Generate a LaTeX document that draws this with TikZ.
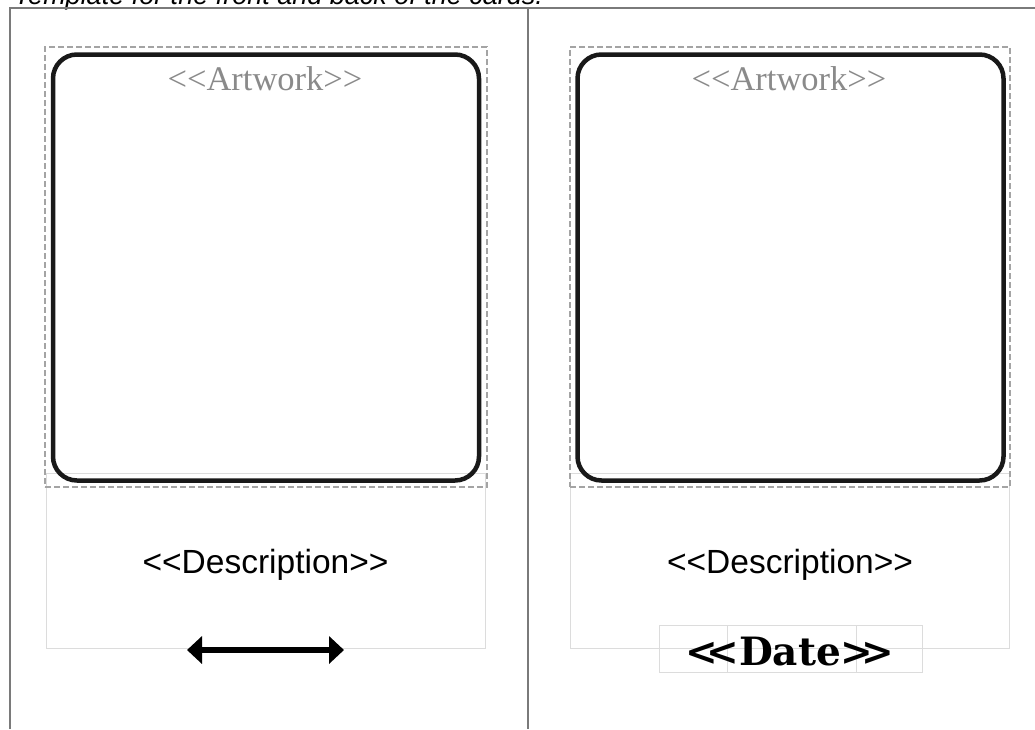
\documentclass[tikz,border=0pt]{standalone}
\usepackage{fontspec}
\usetikzlibrary{arrows.meta, positioning}
\newfontfamily\captionfont{Liberation Sans}
\newfontfamily\artfont{Liberation Serif}
\newfontfamily\descfont{Liberation Sans}
\newfontfamily\datefont{DejaVu Serif}
\definecolor{frameGray}{HTML}{7A7A7A}
\definecolor{dashGray}{HTML}{A4A4A4}
\definecolor{boxGray}{HTML}{DCDCDC}
\definecolor{artGray}{HTML}{8A8A8A}
\tikzset{
    % Frames
    outerline/.style={draw=frameGray, line width=2pt},
    cutframe/.style={rectangle, draw=dashGray, line width=1.3pt, dash pattern=on 6pt off 3pt,
                     inner sep=0pt, outer sep=0pt},
    artbox/.style={rectangle, draw=black!90, line width=4.5pt, rounded corners=24pt,
                   minimum width=426pt, minimum height=426pt, inner sep=0pt, outer sep=0pt},
    descbox/.style={rectangle, draw=boxGray, line width=1pt, minimum width=439pt,
                    minimum height=175pt, inner sep=0pt, outer sep=0pt},
    datecell/.style={rectangle, draw=boxGray, line width=1pt, minimum height=47pt,
                     inner sep=0pt, outer sep=0pt},
    % Texts
    arttext/.style={anchor=base, text=artGray, font=\artfont\fontsize{34.5}{40}\selectfont},
    desctext/.style={anchor=base, font=\descfont\fontsize{33.5}{40}\selectfont},
    datetext/.style={anchor=base, font=\datefont\bfseries\fontsize{39}{44}\selectfont},
    % Arrow
    bothway/.style={{Triangle[length=15pt, width=27pt]}-{Triangle[length=15pt, width=27pt]},
                    line width=5.5pt, black}
}

\begin{document}
\begin{tikzpicture}[x=1pt, y=-1pt]
\useasboundingbox (0,0) rectangle (1035,729);

% caption, cut off at the top of the page
\node[anchor=base west, inner sep=0pt, font=\captionfont\itshape\fontsize{27}{32}\selectfont]
    (caption) at (14,4) {Template for the front and back of the cards.};

% outer frame
\coordinate (frameBL) at (10,729);
\coordinate (frameTR) at (1035,8);
\coordinate (splitTop) at (528,8);
\coordinate (splitBot) at (528,729);
\draw[outerline] (frameBL) |- (frameTR);
\draw[outerline] (splitTop) -- (splitBot);

% front card
\node[descbox] (frontDesc) at (265.5,560.5) {};
\node[cutframe, minimum width=442pt, minimum height=440pt] (frontCut) at (266,267) {};
\node[artbox] (frontArt) at (266,267.5) {};
\node[arttext] (frontArtText) at (265,90) {<<Artwork>>};
\node[desctext] (frontDescText) at (265.5,573) {<<Description>>};
\coordinate (arrowLeft) at (187,650);
\coordinate (arrowRight) at (344,650);
\draw[bothway] (arrowLeft) -- (arrowRight);

% back card
\node[descbox] (backDesc) at (790,560.5) {};
\node[cutframe, minimum width=440pt, minimum height=440pt] (backCut) at (790,267) {};
\node[artbox] (backArt) at (790.5,267.5) {};
\node[arttext] (backArtText) at (789,90) {<<Artwork>>};
\node[desctext] (backDescText) at (790,573) {<<Description>>};
\node[datecell, minimum width=129pt] (dateMid) at (791.5,648.5) {};
\node[datecell, minimum width=68pt, left=0pt of dateMid] (dateLeft) {};
\node[datecell, minimum width=66pt, right=0pt of dateMid] (dateRight) {};
\node[datetext] (dateText) at (790,665) {<\kern-0.3em<Date>\kern-0.3em>};

\end{tikzpicture}
\end{document}
